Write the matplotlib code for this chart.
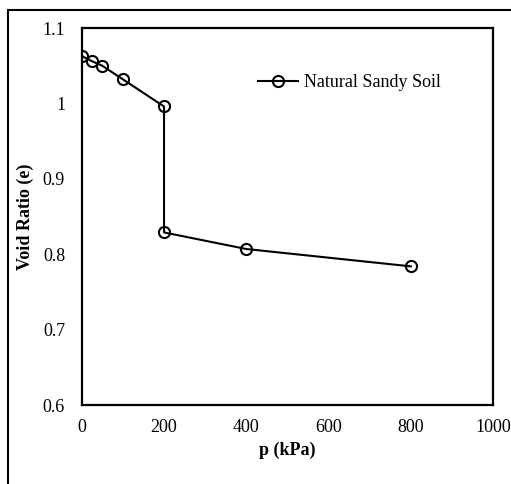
import matplotlib
matplotlib.use('Agg')
from matplotlib import pyplot as plt
from matplotlib.patches import Rectangle

# Data
pressure = [0, 25, 50, 100, 200, 200, 400, 800]
void_ratio = [1.063, 1.056, 1.050, 1.032, 0.996, 0.829, 0.807, 0.784]
x_ticks = [0, 200, 400, 600, 800, 1000]
y_ticks = [0.6, 0.7, 0.8, 0.9, 1.0, 1.1]
y_tick_labels = ['0.6', '0.7', '0.8', '0.9', '1', '1.1']

plt.rcParams['font.family'] = ['Liberation Serif', 'DejaVu Serif']

fig = plt.figure(figsize=(5.11, 4.84), dpi=100)
ax = fig.add_axes([0.160, 0.163, 0.805, 0.779])

# Outer border of the chart area
fig.patches.append(Rectangle((8 / 511, -0.1), 1.2, 1.1 - 10 / 484 + 0.0,
                             transform=fig.transFigure, fill=False,
                             edgecolor='black', linewidth=1.5))

ax.plot(pressure, void_ratio, '-o', color='black', linewidth=1.5,
        markersize=8, markerfacecolor='none', markeredgewidth=1.5,
        label='Natural Sandy Soil')

ax.set_xlim(0, 1000)
ax.set_ylim(0.6, 1.1)
ax.set_xticks(x_ticks)
ax.set_yticks(y_ticks)
ax.set_yticklabels(y_tick_labels)
ax.tick_params(length=0, labelsize=13)
ax.tick_params(axis='y', pad=12)
ax.tick_params(axis='x', pad=10)
for s in ax.spines.values():
    s.set_linewidth(1.6)

ax.set_xlabel('p (kPa)', fontsize=13, fontweight='bold', labelpad=4)
ax.set_ylabel('Void Ratio (e)', fontsize=13, fontweight='bold', labelpad=6)

ax.legend(loc='upper left', bbox_to_anchor=(0.39, 0.92), frameon=False,
          fontsize=13, handlelength=2.2, handletextpad=0.3)

fig.savefig('out.png', dpi=100)
